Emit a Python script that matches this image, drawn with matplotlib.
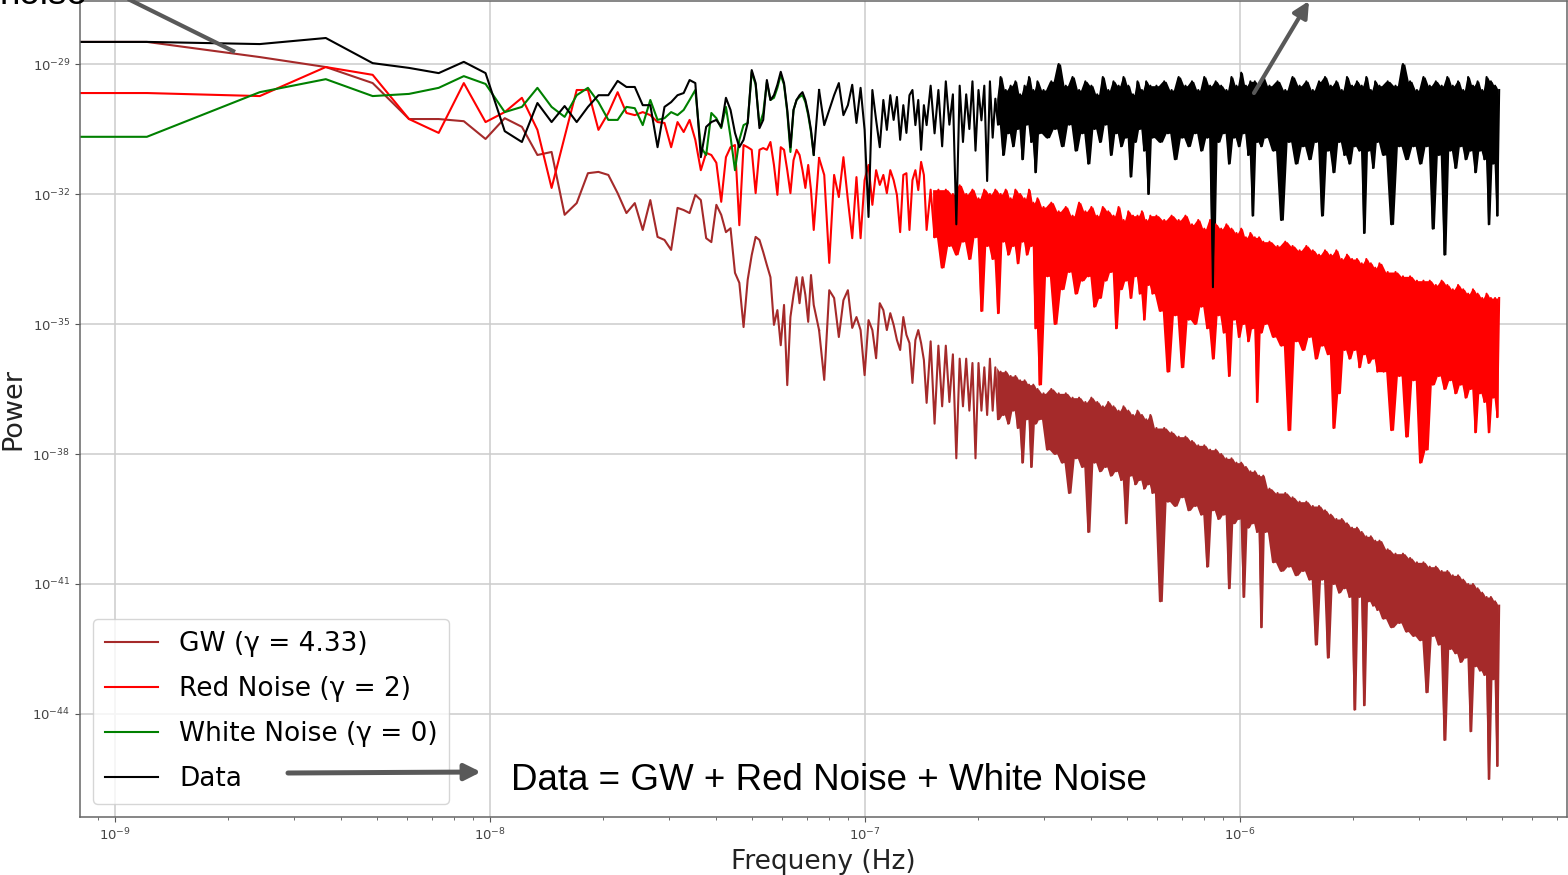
import numpy as np
import matplotlib
matplotlib.use("Agg")
import matplotlib.pyplot as plt
from matplotlib.ticker import NullLocator
from matplotlib.patches import FancyArrowPatch
from matplotlib.lines import Line2D

# ---------------- data ----------------
f0_hz = 1.217e-9  # fundamental frequency of the periodogram grid

# harmonic numbers of the sampled frequency bins (bin 0 = DC)
harmonic_low = list(range(0, 61))
harmonic_a = list(range(62, 121, 2))
harmonic_dense = (list(range(123, 241, 3)) + list(range(246, 481, 6)) +
                  list(range(492, 961, 12)) + list(range(985, 1936, 25)) +
                  list(range(1985, 4036, 50)))

# log10(power) values, GW (gamma = 4.33)
gw_low = [-28.49, -28.49, -28.84, -29.07, -29.44, -30.27, -30.27, -30.32, -30.73, -30.25, -30.45,
          -31.10, -31.03, -32.48, -32.21, -31.52, -31.49, -31.56, -31.98, -32.44, -32.21,
          -32.83, -32.14, -32.99, -33.06, -33.29, -32.32, -32.37, -32.44, -32.02, -32.14,
          -33.02, -33.11, -32.25, -32.48, -32.88, -32.79, -33.82, -34.05, -35.07, -33.98,
          -33.41, -32.99, -33.06, -33.34, -33.64, -33.92, -35.02, -34.68, -35.49, -34.56,
          -36.41, -34.84, -34.33, -33.92, -34.52, -33.92, -34.33, -34.95, -33.87, -34.56]
gw_a = [-35.14, -36.29, -34.22, -34.40, -35.30, -34.45, -34.22, -35.09, -34.84, -35.14,
        -36.18, -34.91, -35.14, -35.79, -34.52, -34.68, -35.14, -34.75, -35.02, -35.37,
        -35.60, -34.84, -35.25, -35.44, -36.36, -35.37, -35.14, -35.44, -35.83, -36.82]
gw_dense = [
    -35.4, -37.3, -35.5, -36.9, -35.5, -36.8, -35.7, -38.1, -35.8, -36.9,
    -35.8, -37.0, -35.9, -38.1, -35.9, -37.0, -36.0, -37.1, -35.8, -37.0,
    -36.0, -37.2, -36.1, -37.1, -36.1, -37.3, -36.2, -37.0, -36.2, -37.4,
    -36.3, -38.2, -36.3, -37.2, -36.4, -38.3, -36.4, -37.3, -36.5, -37.2,
    -36.6, -37.9, -36.5, -38.0, -36.6, -38.2, -36.6, -38.9, -36.7, -38.1,
    -36.7, -38.3, -36.8, -39.8, -36.7, -38.2, -36.8, -38.4, -36.9, -38.3,
    -36.8, -38.5, -36.9, -38.4, -37.0, -38.6, -36.9, -39.6, -37.0, -38.5,
    -37.1, -38.7, -37.0, -38.6, -37.1, -38.8, -37.2, -38.7, -37.1, -38.9,
    -37.4, -41.4, -37.4, -39.1, -37.5, -39.2, -37.6, -39.0, -37.6, -39.3,
    -37.7, -39.2, -37.8, -39.4, -37.8, -40.6, -37.9, -39.3, -37.9, -39.5,
    -38.0, -39.4, -38.1, -41.1, -38.1, -39.6, -38.2, -39.5, -38.2, -41.3,
    -38.3, -39.7, -38.4, -39.6, -38.4, -39.8, -38.5, -42.0, -38.5, -39.8,
    -38.8, -40.5, -38.9, -40.7, -38.9, -40.6, -39.0, -40.8, -39.1, -40.7,
    -39.1, -40.9, -39.2, -42.4, -39.2, -40.9, -39.3, -42.7, -39.4, -41.0,
    -39.5, -41.2, -39.5, -41.1, -39.6, -41.3, -39.7, -43.9, -39.7, -41.3,
    -39.8, -43.8, -39.9, -41.4, -39.9, -41.5, -40.0, -41.6, -40.0,
    -41.8, -40.2, -42.0, -40.3, -41.9, -40.3, -42.1, -40.4, -42.2, -40.5,
    -42.3, -40.5, -43.5, -40.6, -42.2, -40.6, -42.4, -40.7, -44.6, -40.7,
    -42.5, -40.8, -42.6, -40.8, -42.8, -40.9, -42.7, -41.0, -44.4, -41.0,
    -42.9, -41.1, -43.0, -41.2, -43.1, -41.3, -45.5, -41.3, -43.2, -41.4,
    -45.2, -41.5]

# log10(power) values, Red Noise (gamma = 2)
red_low = [-29.67, -29.67, -29.74, -29.07, -29.25, -30.27, -30.59, -29.44, -30.34, -30.11, -29.78,
           -30.52, -31.86, -30.68, -29.60, -29.60, -30.52, -30.13, -29.65, -30.13, -30.18,
           -30.11, -30.18, -30.34, -30.36, -30.92, -30.34, -30.57, -30.29, -30.75, -31.45,
           -31.05, -31.10, -31.28, -32.18, -31.15, -30.92, -30.87, -32.72, -30.87, -30.92,
           -30.98, -31.98, -30.98, -30.94, -30.98, -30.80, -31.33, -32.02, -30.92, -30.98,
           -31.45, -31.98, -31.22, -30.98, -31.10, -31.45, -31.86, -31.33, -31.91, -32.83]
red_a = [-31.17, -31.56, -33.59, -31.56, -32.07, -31.15, -32.14, -33.02, -31.61, -33.02,
         -31.68, -31.33, -32.25, -31.45, -31.79, -31.56, -31.98, -31.45, -31.68, -32.02,
         -32.88, -31.56, -31.52, -32.83, -31.68, -31.45, -31.91, -31.26, -31.56, -32.83]
red_dense = [
    -31.9, -33.0, -31.9, -33.7, -31.9, -33.2, -32.0, -33.4, -31.8, -33.1,
    -32.0, -33.5, -31.9, -33.0, -32.1, -34.7, -31.9, -33.2, -32.0, -33.5,
    -31.9, -34.75, -32.0, -33.1, -31.9, -33.4, -32.1, -33.2, -31.9, -33.6,
    -32.0, -33.1, -32.1, -33.4, -31.9, -33.2, -32.2, -35.1, -32.1, -36.4,
    -32.3, -33.9, -32.2, -35.0, -32.4, -34.2, -32.3, -33.8, -32.5, -34.3,
    -32.2, -34.0, -32.4, -33.9, -32.3, -34.6, -32.5, -34.4, -32.3, -34.0,
    -32.4, -33.8, -32.5, -35.1, -32.3, -34.2, -32.6, -34.0, -32.4, -34.4,
    -32.5, -33.9, -32.5, -34.3, -32.4, -34.9, -32.6, -34.1, -32.5, -34.3,
    -32.5, -34.7, -32.6, -36.1, -32.5, -34.8, -32.6, -36.0, -32.5, -34.9,
    -32.7, -35.0, -32.6, -34.6, -32.8, -35.1, -32.6, -35.8, -32.7, -34.8,
    -32.8, -35.2, -32.7, -36.2, -32.8, -34.9, -32.9, -35.3, -32.8, -35.0,
    -33.0, -35.4, -32.9, -35.1, -33.0, -36.8, -33.0, -35.2, -33.1, -35.0,
    -33.1, -35.3, -33.2, -35.5, -33.1, -37.45, -33.2, -35.4, -33.3, -35.6,
    -33.2, -35.3, -33.3, -35.8, -33.4, -35.5, -33.3, -35.7, -33.4, -37.4,
    -33.3, -36.6, -33.5, -35.6, -33.4, -35.8, -33.5, -35.6, -33.5, -36.0,
    -33.6, -35.7, -33.5, -35.9, -33.6, -35.8, -33.7, -36.1, -33.6,
    -36.1, -33.8, -37.45, -33.8, -36.2, -33.9, -37.6, -33.9, -36.3, -34.0,
    -38.2, -34.0, -37.9, -34.0, -36.4, -34.1, -36.2, -34.0, -36.5, -34.1,
    -36.3, -34.2, -36.6, -34.1, -36.4, -34.2, -36.7, -34.3, -36.5, -34.2,
    -37.5, -34.3, -36.6, -34.4, -36.8, -34.3, -37.5, -34.4, -36.7, -34.4,
    -37.15, -34.4]

# log10(power) values, White Noise (gamma = 0); above bin 60 it lies under the Data curve
white_low = [-30.68, -30.68, -29.65, -29.35, -29.74, -29.69, -29.55, -29.28, -29.46, -30.11, -29.99,
             -29.55, -29.99, -30.22, -29.72, -29.55, -29.88, -30.29, -30.29, -29.99, -30.02,
             -30.41, -29.83, -30.29, -30.25, -30.11, -30.18, -30.06, -29.83, -29.60, -30.92,
             -31.10, -30.13, -30.25, -30.48, -29.99, -30.68, -31.45, -30.75, -30.41, -30.36,
             -29.18, -29.48, -30.41, -30.13, -29.42, -29.83, -29.78, -29.55, -29.25, -29.48,
             -30.11, -31.03, -30.06, -29.83, -29.76, -29.72, -29.88, -30.18, -30.57, -31.10]

# log10(power) values, Data
data_low = [-28.49, -28.49, -28.54, -28.40, -28.98, -29.09, -29.21, -28.95, -29.21, -30.55, -30.80,
            -29.90, -30.34, -29.97, -30.34, -29.99, -29.72, -29.72, -29.39, -29.53, -29.53,
            -29.95, -29.95, -30.92, -29.99, -29.88, -29.72, -29.67, -29.37, -29.44, -31.15,
            -30.45, -30.34, -30.29, -30.45, -29.78, -30.06, -30.59, -30.92, -30.75, -30.36,
            -29.14, -29.44, -30.48, -30.29, -29.37, -29.83, -29.72, -29.48, -29.18, -29.44,
            -30.06, -30.92, -30.06, -29.83, -29.72, -29.65, -29.83, -30.13, -30.52, -31.10]
data_a = [-29.60, -30.41, -30.06, -29.72, -29.44, -30.18, -29.95, -29.48, -30.36, -29.55,
          -30.52, -32.53, -29.60, -30.29, -30.92, -29.83, -30.52, -29.72, -30.29, -29.76,
          -30.75, -29.95, -30.59, -29.72, -29.60, -30.41, -29.83, -30.98, -29.95, -30.41]
data_dense = [
    -29.5, -30.6, -29.6, -30.9, -29.4, -30.4, -29.7, -32.7, -29.5, -30.8,
    -29.7, -30.5, -29.4, -31.0, -29.6, -30.3, -29.5, -31.7, -29.4, -30.7,
    -29.8, -30.4, -29.3, -31.1, -29.6, -30.6, -29.5, -30.9, -29.4, -30.5,
    -29.7, -31.2, -29.5, -30.4, -29.3, -30.8, -29.6, -31.5, -29.4, -30.6,
    -29.6, -30.7, -29.4, -30.5, -29.0, -30.9, -29.5, -30.4, -29.3, -31.0,
    -29.6, -30.6, -29.4, -31.3, -29.5, -30.5, -29.7, -30.8, -29.3, -30.4,
    -29.6, -31.1, -29.4, -30.6, -29.5, -30.9, -29.3, -30.7, -29.5, -31.6,
    -29.7, -30.8, -29.4, -30.5, -29.6, -31.0, -29.4, -32.0, -29.5, -30.7,
    -29.5, -30.8, -29.4, -30.6, -29.6, -31.2, -29.3, -30.7, -29.5, -30.9,
    -29.4, -30.6, -29.6, -31.0, -29.3, -30.7, -29.5, -34.15, -29.4, -30.8,
    -29.5, -30.6, -29.6, -31.3, -29.3, -30.7, -29.5, -30.9, -29.2, -30.6,
    -29.5, -31.1, -29.4, -32.5, -29.4, -30.8, -29.5, -30.9, -29.3, -30.7,
    -29.5, -31.0, -29.4, -32.6, -29.6, -30.8, -29.3, -31.3, -29.5, -30.9,
    -29.4, -31.2, -29.6, -30.8, -29.4, -32.5, -29.3, -31.0, -29.5, -31.5,
    -29.4, -30.8, -29.6, -31.1, -29.3, -31.3, -29.5, -30.9, -29.4, -31.0,
    -29.5, -32.9, -29.3, -31.0, -29.6, -31.4, -29.4, -30.8, -29.5,
    -31.1, -29.4, -32.7, -29.5, -30.9, -29.0, -31.2, -29.4, -30.9, -29.6,
    -31.3, -29.3, -30.9, -29.5, -32.8, -29.4, -31.1, -29.5, -33.4, -29.3,
    -31.0, -29.5, -31.4, -29.4, -30.9, -29.6, -31.2, -29.3, -31.0, -29.5,
    -31.5, -29.4, -31.0, -29.6, -31.2, -29.3, -32.7, -29.4, -31.3, -29.5,
    -32.5, -29.6]

series_labels = ["GW (γ = 4.33)", "Red Noise (γ = 2)", "White Noise (γ = 0)", "Data"]
series_colors = ["#a52a2a", "#ff0000", "#008000", "#000000"]
# harmonic where each curve becomes a densely packed band
band_start_harmonic = [183, 123, None, 183]
y_tick_exponents = [-44, -41, -38, -35, -32, -29]
x_tick_exponents = [-9, -8, -7, -6]

# ---------------- figure ----------------
W, H = 1568, 875
fig = plt.figure(figsize=(W / 100, H / 100), dpi=100)
ax = fig.add_axes([80 / W, 58 / H, (1567 - 80) / W, (817 - 1) / H])
ax.set_xscale("log")
ax.set_yscale("log")

n_low = len(harmonic_low)
n_a = len(harmonic_a)
harmonic_all = harmonic_low + harmonic_a + harmonic_dense
freq = np.array(harmonic_all) * f0_hz


def draw_series(values, color, label, band_start):
    p = 10.0 ** np.array(values)
    # region swept by the curve between neighbouring sampled bins of the dense part,
    # so that the tightly packed periodogram reads as a solid band as in the original
    i0 = harmonic_all.index(band_start)
    fh = freq[i0:]
    ph = p[i0:]
    fm = np.sqrt(fh[:-1] * fh[1:])
    ax.fill_between(fm, np.minimum(ph[:-1], ph[1:]), np.maximum(ph[:-1], ph[1:]),
                    color=color, lw=0)
    ax.plot(freq[:n_low + 1], p[:n_low + 1], color=color, lw=1.5, label=label)
    ax.plot(freq[n_low:], p[n_low:], color=color, lw=1.5)


draw_series(gw_low + gw_a + gw_dense, series_colors[0], series_labels[0],
            band_start_harmonic[0])
draw_series(red_low + red_a + red_dense, series_colors[1], series_labels[1],
            band_start_harmonic[1])
ax.plot(freq[:n_low], 10.0 ** np.array(white_low), color=series_colors[2], lw=1.5,
        label=series_labels[2])
draw_series(data_low + data_a + data_dense, series_colors[3], series_labels[3],
            band_start_harmonic[3])

ax.set_xlim(10 ** -9.093, 10 ** -5.128)
ax.set_ylim(10 ** -46.377, 10 ** -27.546)
ax.set_xticks(10.0 ** np.array(x_tick_exponents))
ax.set_yticks(10.0 ** np.array(y_tick_exponents))
ax.yaxis.set_minor_locator(NullLocator())

ax.grid(True, which="major", color="#cccccc", lw=1.1)
ax.set_axisbelow(True)
for sp in ax.spines.values():
    sp.set_color("#666666")
    sp.set_linewidth(1.1)
ax.tick_params(which="both", colors="#555555", labelcolor="#444444", labelsize=9.5)

ax.set_xlabel("Frequeny (Hz)", fontsize=19, color="#222222")
ax.set_ylabel("Power", fontsize=19.5, color="#222222")

leg = ax.legend(loc="lower left", fontsize=19, framealpha=0.8,
                labelspacing=0.72, borderpad=0.45)

# ---------------- annotations ----------------
def fx(px):
    return px / W


def fy(py):
    return 1 - py / H


arrow_color = "#595959"
fig.text(fx(87), fy(4), "noise", ha="right", va="baseline",
         fontsize=26.5, family="Liberation Sans", color="black")
fig.add_artist(Line2D([fx(126), fx(235)], [fy(-2), fy(52)], transform=fig.transFigure,
                      color=arrow_color, lw=3.0, solid_capstyle="butt"))
fig.add_artist(FancyArrowPatch((fx(1254), fy(93)), (fx(1309), fy(1)),
                               transform=fig.transFigure, arrowstyle="-|>",
                               mutation_scale=24, lw=3.0, color=arrow_color,
                               shrinkA=0, shrinkB=0))
fig.add_artist(FancyArrowPatch((fx(288), fy(773)), (fx(481), fy(772)),
                               transform=fig.transFigure, arrowstyle="-|>",
                               mutation_scale=24, lw=3.6, color=arrow_color,
                               shrinkA=0, shrinkB=0))
fig.text(fx(511), fy(790), "Data = GW + Red Noise + White Noise", ha="left",
         va="baseline", fontsize=26.5, family="Liberation Sans", color="black")

fig.savefig("out.png", dpi=100)
